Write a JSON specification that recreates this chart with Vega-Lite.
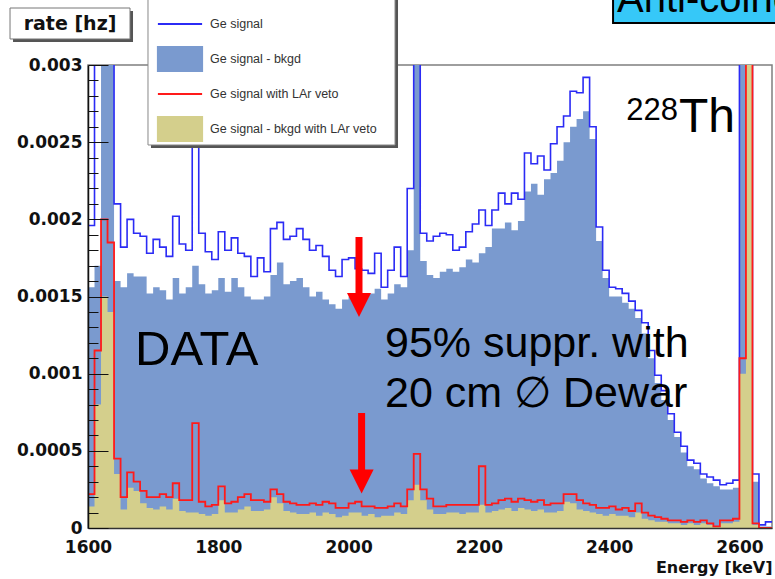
{
  "$schema": "https://vega.github.io/schema/vega-lite/v6.json",
  "width": 684,
  "height": 463,
  "autosize": {"type": "none"},
  "padding": {"left": 88, "top": 65, "right": 3, "bottom": 51},
  "background": "white",
  "config": {
    "view": {"stroke": "#7f7f7f", "strokeWidth": 1.5},
    "font": "Liberation Sans"
  },
  "resolve": {"axis": {"x": "independent", "y": "independent"}},
  "datasets": {
    "h": [
      {"e":1600,"g":0.00196,"b":0.00156,"r":0.00022,"k":0.00014},
      {"e":1610,"g":0.004,"b":0.0017,"r":0.00115,"k":0.0008},
      {"e":1620,"g":0.004,"b":0.004,"r":0.002,"k":0.0015},
      {"e":1630,"g":0.004,"b":0.004,"r":0.00185,"k":0.0014},
      {"e":1640,"g":0.0021,"b":0.0016,"r":0.00045,"k":0.00035},
      {"e":1650,"g":0.00182,"b":0.00156,"r":0.0002,"k":0.00012},
      {"e":1660,"g":0.002,"b":0.00165,"r":0.00036,"k":0.00026},
      {"e":1670,"g":0.00191,"b":0.00163,"r":0.0003,"k":0.00024},
      {"e":1680,"g":0.00189,"b":0.00163,"r":0.00024,"k":0.00016},
      {"e":1690,"g":0.00178,"b":0.00152,"r":0.0002,"k":0.00013},
      {"e":1700,"g":0.00187,"b":0.00156,"r":0.0002,"k":0.00012},
      {"e":1710,"g":0.00182,"b":0.00154,"r":0.00022,"k":0.00014},
      {"e":1720,"g":0.00176,"b":0.00148,"r":0.0002,"k":0.00012},
      {"e":1730,"g":0.00202,"b":0.00162,"r":0.00029,"k":0.00019},
      {"e":1740,"g":0.00184,"b":0.00152,"r":0.00018,"k":0.00011},
      {"e":1750,"g":0.0018,"b":0.00156,"r":0.00018,"k":0.0001},
      {"e":1760,"g":0.0027,"b":0.0017,"r":0.00068,"k":0.0001},
      {"e":1770,"g":0.00191,"b":0.00158,"r":0.00017,"k":0.00009},
      {"e":1780,"g":0.00179,"b":0.00152,"r":0.00014,"k":0.00008},
      {"e":1790,"g":0.00174,"b":0.00154,"r":0.00015,"k":0.00009},
      {"e":1800,"g":0.00192,"b":0.00162,"r":0.00027,"k":0.00018},
      {"e":1810,"g":0.0018,"b":0.00153,"r":0.00016,"k":0.0001},
      {"e":1820,"g":0.00188,"b":0.00162,"r":0.00017,"k":0.0001},
      {"e":1830,"g":0.00178,"b":0.00156,"r":0.0002,"k":0.00012},
      {"e":1840,"g":0.00176,"b":0.0015,"r":0.00022,"k":0.00014},
      {"e":1850,"g":0.00163,"b":0.00148,"r":0.00018,"k":0.00011},
      {"e":1860,"g":0.00175,"b":0.00148,"r":0.00018,"k":0.00011},
      {"e":1870,"g":0.00166,"b":0.0015,"r":0.00017,"k":0.00012},
      {"e":1880,"g":0.00194,"b":0.00164,"r":0.00025,"k":0.0002},
      {"e":1890,"g":0.00198,"b":0.00172,"r":0.00022,"k":0.00016},
      {"e":1900,"g":0.00187,"b":0.00158,"r":0.00017,"k":0.00011},
      {"e":1910,"g":0.00189,"b":0.0016,"r":0.00016,"k":0.0001},
      {"e":1920,"g":0.00194,"b":0.00162,"r":0.00015,"k":0.00009},
      {"e":1930,"g":0.00187,"b":0.00156,"r":0.00015,"k":0.00009},
      {"e":1940,"g":0.0018,"b":0.0015,"r":0.00016,"k":0.0001},
      {"e":1950,"g":0.00183,"b":0.00153,"r":0.00015,"k":0.00008},
      {"e":1960,"g":0.00176,"b":0.00148,"r":0.00017,"k":0.0001},
      {"e":1970,"g":0.00167,"b":0.00145,"r":0.00016,"k":0.00009},
      {"e":1980,"g":0.00163,"b":0.00142,"r":0.00013,"k":0.00007},
      {"e":1990,"g":0.00174,"b":0.00148,"r":0.00013,"k":0.00008},
      {"e":2000,"g":0.00175,"b":0.0015,"r":0.00016,"k":0.0001},
      {"e":2010,"g":0.00168,"b":0.00146,"r":0.00017,"k":0.0001},
      {"e":2020,"g":0.00167,"b":0.00149,"r":0.00014,"k":0.00008},
      {"e":2030,"g":0.00165,"b":0.00152,"r":0.00014,"k":0.00009},
      {"e":2040,"g":0.00178,"b":0.00155,"r":0.00013,"k":0.00007},
      {"e":2050,"g":0.00156,"b":0.00148,"r":0.00013,"k":0.00008},
      {"e":2060,"g":0.00167,"b":0.00152,"r":0.00014,"k":0.00008},
      {"e":2070,"g":0.00182,"b":0.00158,"r":0.00016,"k":0.0001},
      {"e":2080,"g":0.00163,"b":0.00156,"r":0.00014,"k":0.00009},
      {"e":2090,"g":0.0022,"b":0.0018,"r":0.00025,"k":0.00018},
      {"e":2100,"g":0.004,"b":0.004,"r":0.00048,"k":0.00028},
      {"e":2110,"g":0.00191,"b":0.00173,"r":0.00025,"k":0.00018},
      {"e":2120,"g":0.00186,"b":0.00164,"r":0.00019,"k":0.00012},
      {"e":2130,"g":0.00189,"b":0.00162,"r":0.00014,"k":0.00009},
      {"e":2140,"g":0.00191,"b":0.00166,"r":0.00014,"k":0.00009},
      {"e":2150,"g":0.0019,"b":0.00168,"r":0.00015,"k":0.0001},
      {"e":2160,"g":0.0018,"b":0.00166,"r":0.00015,"k":0.0001},
      {"e":2170,"g":0.00182,"b":0.00169,"r":0.00015,"k":0.00009},
      {"e":2180,"g":0.00192,"b":0.00174,"r":0.00015,"k":0.0001},
      {"e":2190,"g":0.00197,"b":0.00172,"r":0.00015,"k":0.0001},
      {"e":2200,"g":0.00206,"b":0.00178,"r":0.0004,"k":0.00015},
      {"e":2210,"g":0.00196,"b":0.00182,"r":0.00015,"k":0.0001},
      {"e":2220,"g":0.00206,"b":0.00194,"r":0.00016,"k":0.00011},
      {"e":2230,"g":0.00217,"b":0.00194,"r":0.00018,"k":0.00012},
      {"e":2240,"g":0.0021,"b":0.00198,"r":0.00019,"k":0.00013},
      {"e":2250,"g":0.00217,"b":0.00193,"r":0.00017,"k":0.00011},
      {"e":2260,"g":0.00213,"b":0.00199,"r":0.00019,"k":0.00013},
      {"e":2270,"g":0.00243,"b":0.00218,"r":0.00018,"k":0.00012},
      {"e":2280,"g":0.00236,"b":0.00223,"r":0.00017,"k":0.00011},
      {"e":2290,"g":0.00241,"b":0.00216,"r":0.00018,"k":0.00012},
      {"e":2300,"g":0.00232,"b":0.00226,"r":0.00015,"k":0.0001},
      {"e":2310,"g":0.00249,"b":0.0023,"r":0.00016,"k":0.0001},
      {"e":2320,"g":0.0026,"b":0.00238,"r":0.00016,"k":0.00011},
      {"e":2330,"g":0.00267,"b":0.0025,"r":0.00022,"k":0.00017},
      {"e":2340,"g":0.00283,"b":0.0026,"r":0.00022,"k":0.00016},
      {"e":2350,"g":0.00282,"b":0.00265,"r":0.00018,"k":0.00012},
      {"e":2360,"g":0.00292,"b":0.0027,"r":0.00016,"k":0.00011},
      {"e":2370,"g":0.0026,"b":0.00252,"r":0.00015,"k":0.0001},
      {"e":2380,"g":0.00195,"b":0.00186,"r":0.00013,"k":0.00009},
      {"e":2390,"g":0.00167,"b":0.00162,"r":0.00013,"k":0.00008},
      {"e":2400,"g":0.00156,"b":0.0015,"r":0.00014,"k":0.00009},
      {"e":2410,"g":0.00155,"b":0.0015,"r":0.00012,"k":0.00008},
      {"e":2420,"g":0.00152,"b":0.00146,"r":0.00013,"k":0.00008},
      {"e":2430,"g":0.00147,"b":0.00142,"r":0.00011,"k":0.00007},
      {"e":2440,"g":0.00141,"b":0.00136,"r":0.00016,"k":0.0001},
      {"e":2450,"g":0.00133,"b":0.00126,"r":0.0001,"k":0.00006},
      {"e":2460,"g":0.00115,"b":0.0011,"r":0.00008,"k":0.00005},
      {"e":2470,"g":0.00099,"b":0.00094,"r":0.00007,"k":0.00004},
      {"e":2480,"g":0.00089,"b":0.00083,"r":0.00006,"k":0.00004},
      {"e":2490,"g":0.00074,"b":0.0007,"r":0.00005,"k":0.00003},
      {"e":2500,"g":0.00062,"b":0.00059,"r":0.00005,"k":0.00003},
      {"e":2510,"g":0.00053,"b":0.00049,"r":0.00004,"k":0.00002},
      {"e":2520,"g":0.00044,"b":0.0004,"r":0.00005,"k":0.00003},
      {"e":2530,"g":0.00042,"b":0.00038,"r":0.00004,"k":0.00002},
      {"e":2540,"g":0.00035,"b":0.00032,"r":0.00005,"k":0.00003},
      {"e":2550,"g":0.00033,"b":0.00029,"r":0.00003,"k":0.00002},
      {"e":2560,"g":0.00031,"b":0.00027,"r":0.00001,"k":0.00001},
      {"e":2570,"g":0.00028,"b":0.00025,"r":0.00005,"k":0.00003},
      {"e":2580,"g":0.00029,"b":0.00025,"r":0.00005,"k":0.00003},
      {"e":2590,"g":0.00031,"b":0.00026,"r":0.00006,"k":0.00004},
      {"e":2600,"g":0.004,"b":0.004,"r":0.0011,"k":0.001},
      {"e":2610,"g":0.004,"b":0.004,"r":0.004,"k":0.004},
      {"e":2620,"g":0.00035,"b":0.0003,"r":0.00003,"k":0.00002},
      {"e":2630,"g":0.00002,"b":0.00001,"r":0,"k":0},
      {"e":2640,"g":0.00004,"b":0.00001,"r":0,"k":0},
      {"e":2650,"g":0.00004,"b":0.00001,"r":0,"k":0}
    ]
  },
  "layer": [
    {
      "data": {"name": "h"},
      "mark": {"type": "area", "interpolate": "step-after", "color": "#7a9acf", "clip": true},
      "encoding": {
        "x": {"field": "e", "type": "quantitative", "scale": {"domain": [1600, 2650], "nice": false, "zero": false},
          "axis": {"orient": "bottom", "values": [1600, 1800, 2000, 2200, 2400, 2600], "format": "d", "ticks": false, "grid": false, "domainColor": "#333", "domainWidth": 1.5,
            "labelFont": "DejaVu Sans", "labelFontWeight": "bold", "labelFontSize": 17, "labelColor": "#111", "labelPadding": 11, "labelFlush": false, "labelOverlap": false,
            "title": "Energy [keV]", "titleFont": "DejaVu Sans", "titleFontWeight": "bold", "titleFontSize": 16, "titleColor": "#111",
            "titleX": 684, "titleY": 39, "titleAlign": "right", "titleBaseline": "middle", "titleAnchor": "end", "zindex": 1}},
        "y": {"field": "b", "type": "quantitative", "scale": {"domain": [0, 0.003], "nice": false, "zero": true},
          "axis": {"orient": "left", "values": [0, 0.0005, 0.001, 0.0015, 0.002, 0.0025, 0.003], "format": "~f",
            "tickSize": -20, "tickColor": "#111", "tickWidth": 1, "grid": false, "domainColor": "#111", "domainWidth": 1.5,
            "labelFont": "DejaVu Sans", "labelFontWeight": "bold", "labelFontSize": 17, "labelColor": "#111", "labelPadding": 26,
            "labelFlush": false, "labelOverlap": false, "labelBound": false, "title": null, "zindex": 1}}
      }
    },
    {
      "data": {"values": [{}]},
      "mark": {"type": "point", "clip": true, "opacity": 0},
      "encoding": {
        "x": {"datum": 1500, "type": "quantitative", "axis": null},
        "y": {"datum": 0.0001, "type": "quantitative",
          "axis": {"orient": "left", "values": [0.0001,0.0002,0.0003,0.0004,0.0006,0.0007,0.0008,0.0009,0.0011,0.0012,0.0013,0.0014,0.0016,0.0017,0.0018,0.0019,0.0021,0.0022,0.0023,0.0024,0.0026,0.0027,0.0028,0.0029],
            "labels": false, "domain": false, "grid": false, "tickSize": -10, "tickColor": "#111", "tickWidth": 1, "title": null, "zindex": 1}}
      }
    },
    {
      "data": {"name": "h"},
      "mark": {"type": "line", "interpolate": "step-after", "color": "#2b2bf5", "strokeWidth": 1.6, "clip": true},
      "encoding": {
        "x": {"field": "e", "type": "quantitative", "axis": null},
        "y": {"field": "g", "type": "quantitative", "axis": null}
      }
    },
    {
      "data": {"name": "h"},
      "mark": {"type": "area", "interpolate": "step-after", "color": "#d4cf8c", "clip": true},
      "encoding": {
        "x": {"field": "e", "type": "quantitative", "axis": null},
        "y": {"field": "k", "type": "quantitative", "axis": null}
      }
    },
    {
      "data": {"name": "h"},
      "mark": {"type": "line", "interpolate": "step-after", "color": "#ff1a1a", "strokeWidth": 1.8, "clip": true},
      "encoding": {
        "x": {"field": "e", "type": "quantitative", "axis": null},
        "y": {"field": "r", "type": "quantitative", "axis": null}
      }
    },
    {
      "data": {"values": [{}]},
      "mark": {"type": "text", "text": "DATA", "font": "Liberation Sans", "fontSize": 49, "align": "left", "baseline": "alphabetic", "color": "black"},
      "encoding": {"x": {"datum": 1672.2, "type": "quantitative", "axis": null}, "y": {"datum": 0.0010562, "type": "quantitative", "axis": null}}
    },
    {
      "data": {"values": [{}]},
      "mark": {"type": "text", "text": "95% suppr. with", "font": "Liberation Sans", "fontSize": 43, "align": "left", "baseline": "alphabetic", "color": "black"},
      "encoding": {"x": {"datum": 2055.9, "type": "quantitative", "axis": null}, "y": {"datum": 0.001108, "type": "quantitative", "axis": null}}
    },
    {
      "data": {"values": [{}]},
      "mark": {"type": "text", "text": "20 cm ∅ Dewar", "font": "Liberation Sans", "fontSize": 43, "align": "left", "baseline": "alphabetic", "color": "black"},
      "encoding": {"x": {"datum": 2055.9, "type": "quantitative", "axis": null}, "y": {"datum": 0.000784, "type": "quantitative", "axis": null}}
    },
    {
      "data": {"values": [{}]},
      "mark": {"type": "text", "text": "228", "font": "Liberation Sans", "fontSize": 31, "align": "right", "baseline": "alphabetic", "color": "black"},
      "encoding": {"x": {"datum": 2505.8, "type": "quantitative", "axis": null}, "y": {"datum": 0.0026436, "type": "quantitative", "axis": null}}
    },
    {
      "data": {"values": [{}]},
      "mark": {"type": "text", "text": "Th", "font": "Liberation Sans", "fontSize": 48, "align": "left", "baseline": "alphabetic", "color": "black"},
      "encoding": {"x": {"datum": 2507.3, "type": "quantitative", "axis": null}, "y": {"datum": 0.0025659, "type": "quantitative", "axis": null}}
    },
    {
      "data": {"values": [{}]},
      "mark": {"type": "rule", "color": "#ff0000", "strokeWidth": 7},
      "encoding": {"x": {"datum": 2016, "type": "quantitative", "axis": null}, "y": {"datum": 0.0018855, "type": "quantitative", "axis": null}, "y2": {"datum": 0.00148}}
    },
    {
      "data": {"values": [{}]},
      "mark": {"type": "point", "shape": "M-1,-1L1,-1L0,1Z", "size": 576, "filled": true, "color": "#ff0000", "opacity": 1},
      "encoding": {"x": {"datum": 2016, "type": "quantitative", "axis": null}, "y": {"datum": 0.0014449, "type": "quantitative", "axis": null}}
    },
    {
      "data": {"values": [{}]},
      "mark": {"type": "rule", "color": "#ff0000", "strokeWidth": 7},
      "encoding": {"x": {"datum": 2020, "type": "quantitative", "axis": null}, "y": {"datum": 0.00074514, "type": "quantitative", "axis": null}, "y2": {"datum": 0.00034}}
    },
    {
      "data": {"values": [{}]},
      "mark": {"type": "point", "shape": "M-1,-1L1,-1L0,1Z", "size": 576, "filled": true, "color": "#ff0000", "opacity": 1},
      "encoding": {"x": {"datum": 2020, "type": "quantitative", "axis": null}, "y": {"datum": 0.0003013, "type": "quantitative", "axis": null}}
    },
    {
      "data": {"values": [{}]},
      "mark": {"type": "rect", "color": "#555555"},
      "encoding": {"x": {"datum": 1696.7, "type": "quantitative", "axis": null}, "x2": {"datum": 2075.9}, "y": {"datum": 0.0034341, "type": "quantitative", "axis": null}, "y2": {"datum": 0.0024622}}
    },
    {
      "data": {"values": [{}]},
      "mark": {"type": "rect", "fill": "white", "stroke": "#888888", "strokeWidth": 1},
      "encoding": {"x": {"datum": 1692.1, "type": "quantitative", "axis": null}, "x2": {"datum": 2071.3}, "y": {"datum": 0.0034536, "type": "quantitative", "axis": null}, "y2": {"datum": 0.0024817}}
    },
    {
      "data": {"values": [{"s": "Ge signal"}, {"s": "Ge signal - bkgd"}, {"s": "Ge signal with LAr veto"}, {"s": "Ge signal - bkgd with LAr veto"}]},
      "mark": {"type": "point", "filled": true, "size": 676, "clip": true, "strokeWidth": 2, "opacity": 1},
      "encoding": {
        "x": {"datum": 1500, "type": "quantitative", "axis": null},
        "y": {"datum": 0.0015, "type": "quantitative", "axis": null},
        "fill": {"field": "s", "type": "nominal",
          "scale": {"domain": ["Ge signal", "Ge signal - bkgd", "Ge signal with LAr veto", "Ge signal - bkgd with LAr veto"], "range": ["#2b2bf5", "#7a9acf", "#ff1a1a", "#d4cf8c"]},
          "legend": {"orient": "none", "legendX": 64, "legendY": -54, "padding": 0, "title": null, "symbolSize": 676, "symbolStrokeWidth": 2,
            "symbolOffset": 14, "labelOffset": 16, "clipHeight": 26, "rowPadding": 9, "labelFont": "Liberation Sans", "labelFontSize": 12.5, "labelColor": "#333", "labelLimit": 300, "symbolOpacity": 1}},
        "stroke": {"field": "s", "type": "nominal",
          "scale": {"domain": ["Ge signal", "Ge signal - bkgd", "Ge signal with LAr veto", "Ge signal - bkgd with LAr veto"], "range": ["#2b2bf5", "#7a9acf", "#ff1a1a", "#d4cf8c"]}},
        "shape": {"field": "s", "type": "nominal",
          "scale": {"domain": ["Ge signal", "Ge signal - bkgd", "Ge signal with LAr veto", "Ge signal - bkgd with LAr veto"], "range": ["M-1.7,0H1.7", "M-1.7,-0.92H1.7V0.92H-1.7Z", "M-1.7,0H1.7", "M-1.7,-0.92H1.7V0.92H-1.7Z"]}}
      }
    },
    {
      "data": {"values": [{}]},
      "mark": {"type": "rect", "color": "#555555"},
      "encoding": {"x": {"datum": 1484.9, "type": "quantitative", "axis": null}, "x2": {"datum": 1669.1}, "y": {"datum": 0.0033499, "type": "quantitative", "axis": null}, "y2": {"datum": 0.003149}}
    },
    {
      "data": {"values": [{}]},
      "mark": {"type": "rect", "fill": "white", "stroke": "#777777", "strokeWidth": 1},
      "encoding": {"x": {"datum": 1480.3, "type": "quantitative", "axis": null}, "x2": {"datum": 1664.5}, "y": {"datum": 0.0033693, "type": "quantitative", "axis": null}, "y2": {"datum": 0.0031685}}
    },
    {
      "data": {"values": [{}]},
      "mark": {"type": "text", "text": "rate [hz]", "font": "DejaVu Sans", "fontWeight": "bold", "fontSize": 19, "align": "center", "baseline": "middle", "color": "#111"},
      "encoding": {"x": {"datum": 1572.4, "type": "quantitative", "axis": null}, "y": {"datum": 0.0032656, "type": "quantitative", "axis": null}}
    },
    {
      "data": {"values": [{}]},
      "mark": {"type": "rect", "fill": "#36c8f8", "stroke": "black", "strokeWidth": 2},
      "encoding": {"x": {"datum": 2406.0, "type": "quantitative", "axis": null}, "x2": {"datum": 2793}, "y": {"datum": 0.0036156, "type": "quantitative", "axis": null}, "y2": {"datum": 0.0032721}}
    },
    {
      "data": {"values": [{}]},
      "mark": {"type": "text", "text": "Anti-coincidence", "font": "Liberation Sans", "fontSize": 40, "align": "left", "baseline": "alphabetic", "color": "black"},
      "encoding": {"x": {"datum": 2412.1, "type": "quantitative", "axis": null}, "y": {"datum": 0.0033434, "type": "quantitative", "axis": null}}
    }
  ]
}
